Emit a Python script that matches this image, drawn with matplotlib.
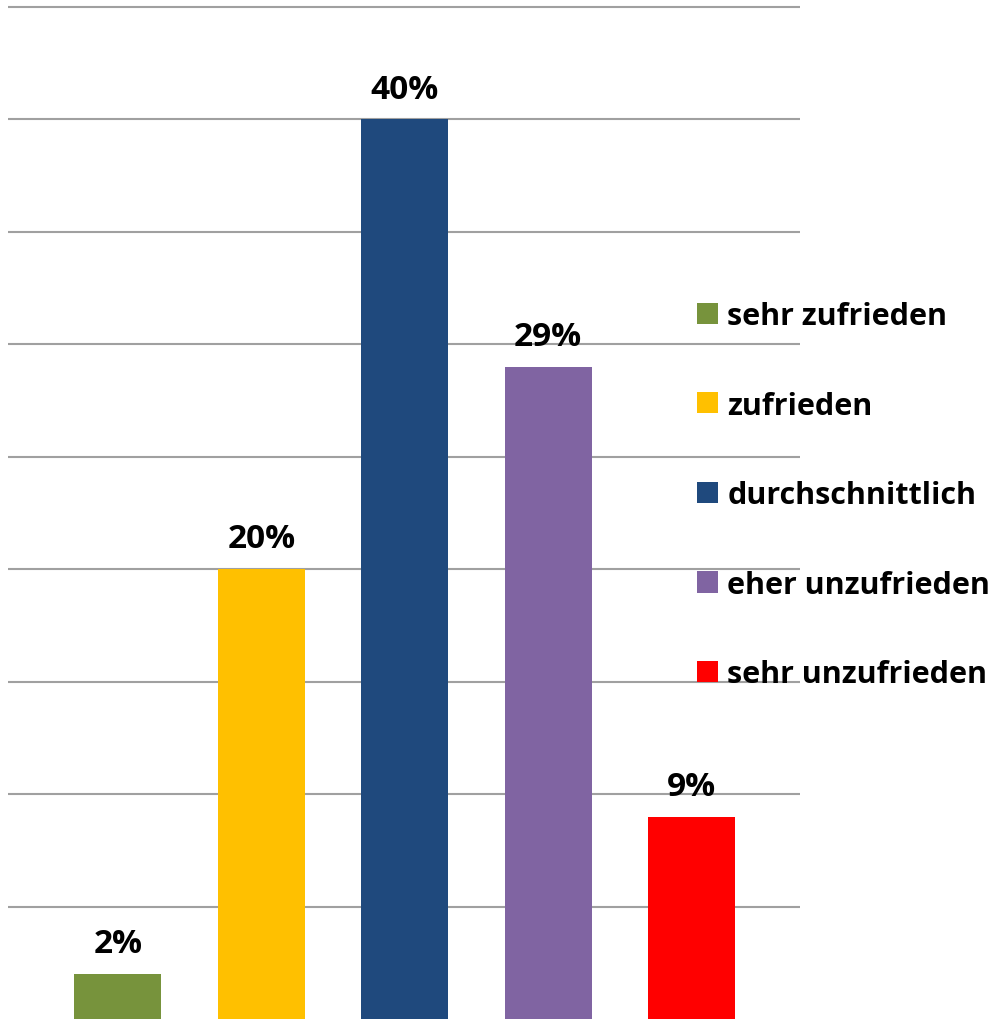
import matplotlib.pyplot as plt
from matplotlib.patches import Patch

categories = ['sehr zufrieden', 'zufrieden', 'durchschnittlich',
              'eher unzufrieden', 'sehr unzufrieden']
values = [2, 20, 40, 29, 9]
colors = ['#77933C', '#FFC000', '#1F497D', '#8064A2', '#FF0000']

plt.rcParams['font.family'] = ['Open Sans', 'DejaVu Sans']
plt.rcParams['font.weight'] = 'bold'

W, H = 996, 1020
fig = plt.figure(figsize=(W / 100, H / 100), dpi=100)
ax = fig.add_axes([8 / W, 0, (800 - 8) / W, (H - 1.3) / H])

x = list(range(len(values)))
bars = ax.bar(x, values, width=0.607, color=colors, zorder=3)

for xi, v in zip(x, values):
    ax.annotate(f'{v}%', (xi, v), xytext=(0, 15.8), textcoords='offset points',
                ha='center', va='baseline', fontsize=24, fontweight='bold',
                zorder=4)

ax.set_xlim(-0.767, 4.757)
ax.set_ylim(0, 45.3)
ax.set_yticks(range(5, 50, 5))
ax.set_xticks([])
ax.tick_params(left=False, labelleft=False)
ax.yaxis.grid(True, color='#A0A0A0', linewidth=1.5, zorder=0)
ax.set_axisbelow(True)
for s in ax.spines.values():
    s.set_visible(False)

handles = [Patch(facecolor=c, edgecolor='none') for c in colors]
fig.legend(handles, categories, loc='upper left',
           bbox_to_anchor=(697 / W, 1 - 302 / H),
           frameon=False, borderpad=0, borderaxespad=0,
           handlelength=0.69, handleheight=0.69, handletextpad=0.3,
           labelspacing=1.95, prop={'weight': 'bold', 'size': 22})

fig.savefig('out.png', dpi=100)
